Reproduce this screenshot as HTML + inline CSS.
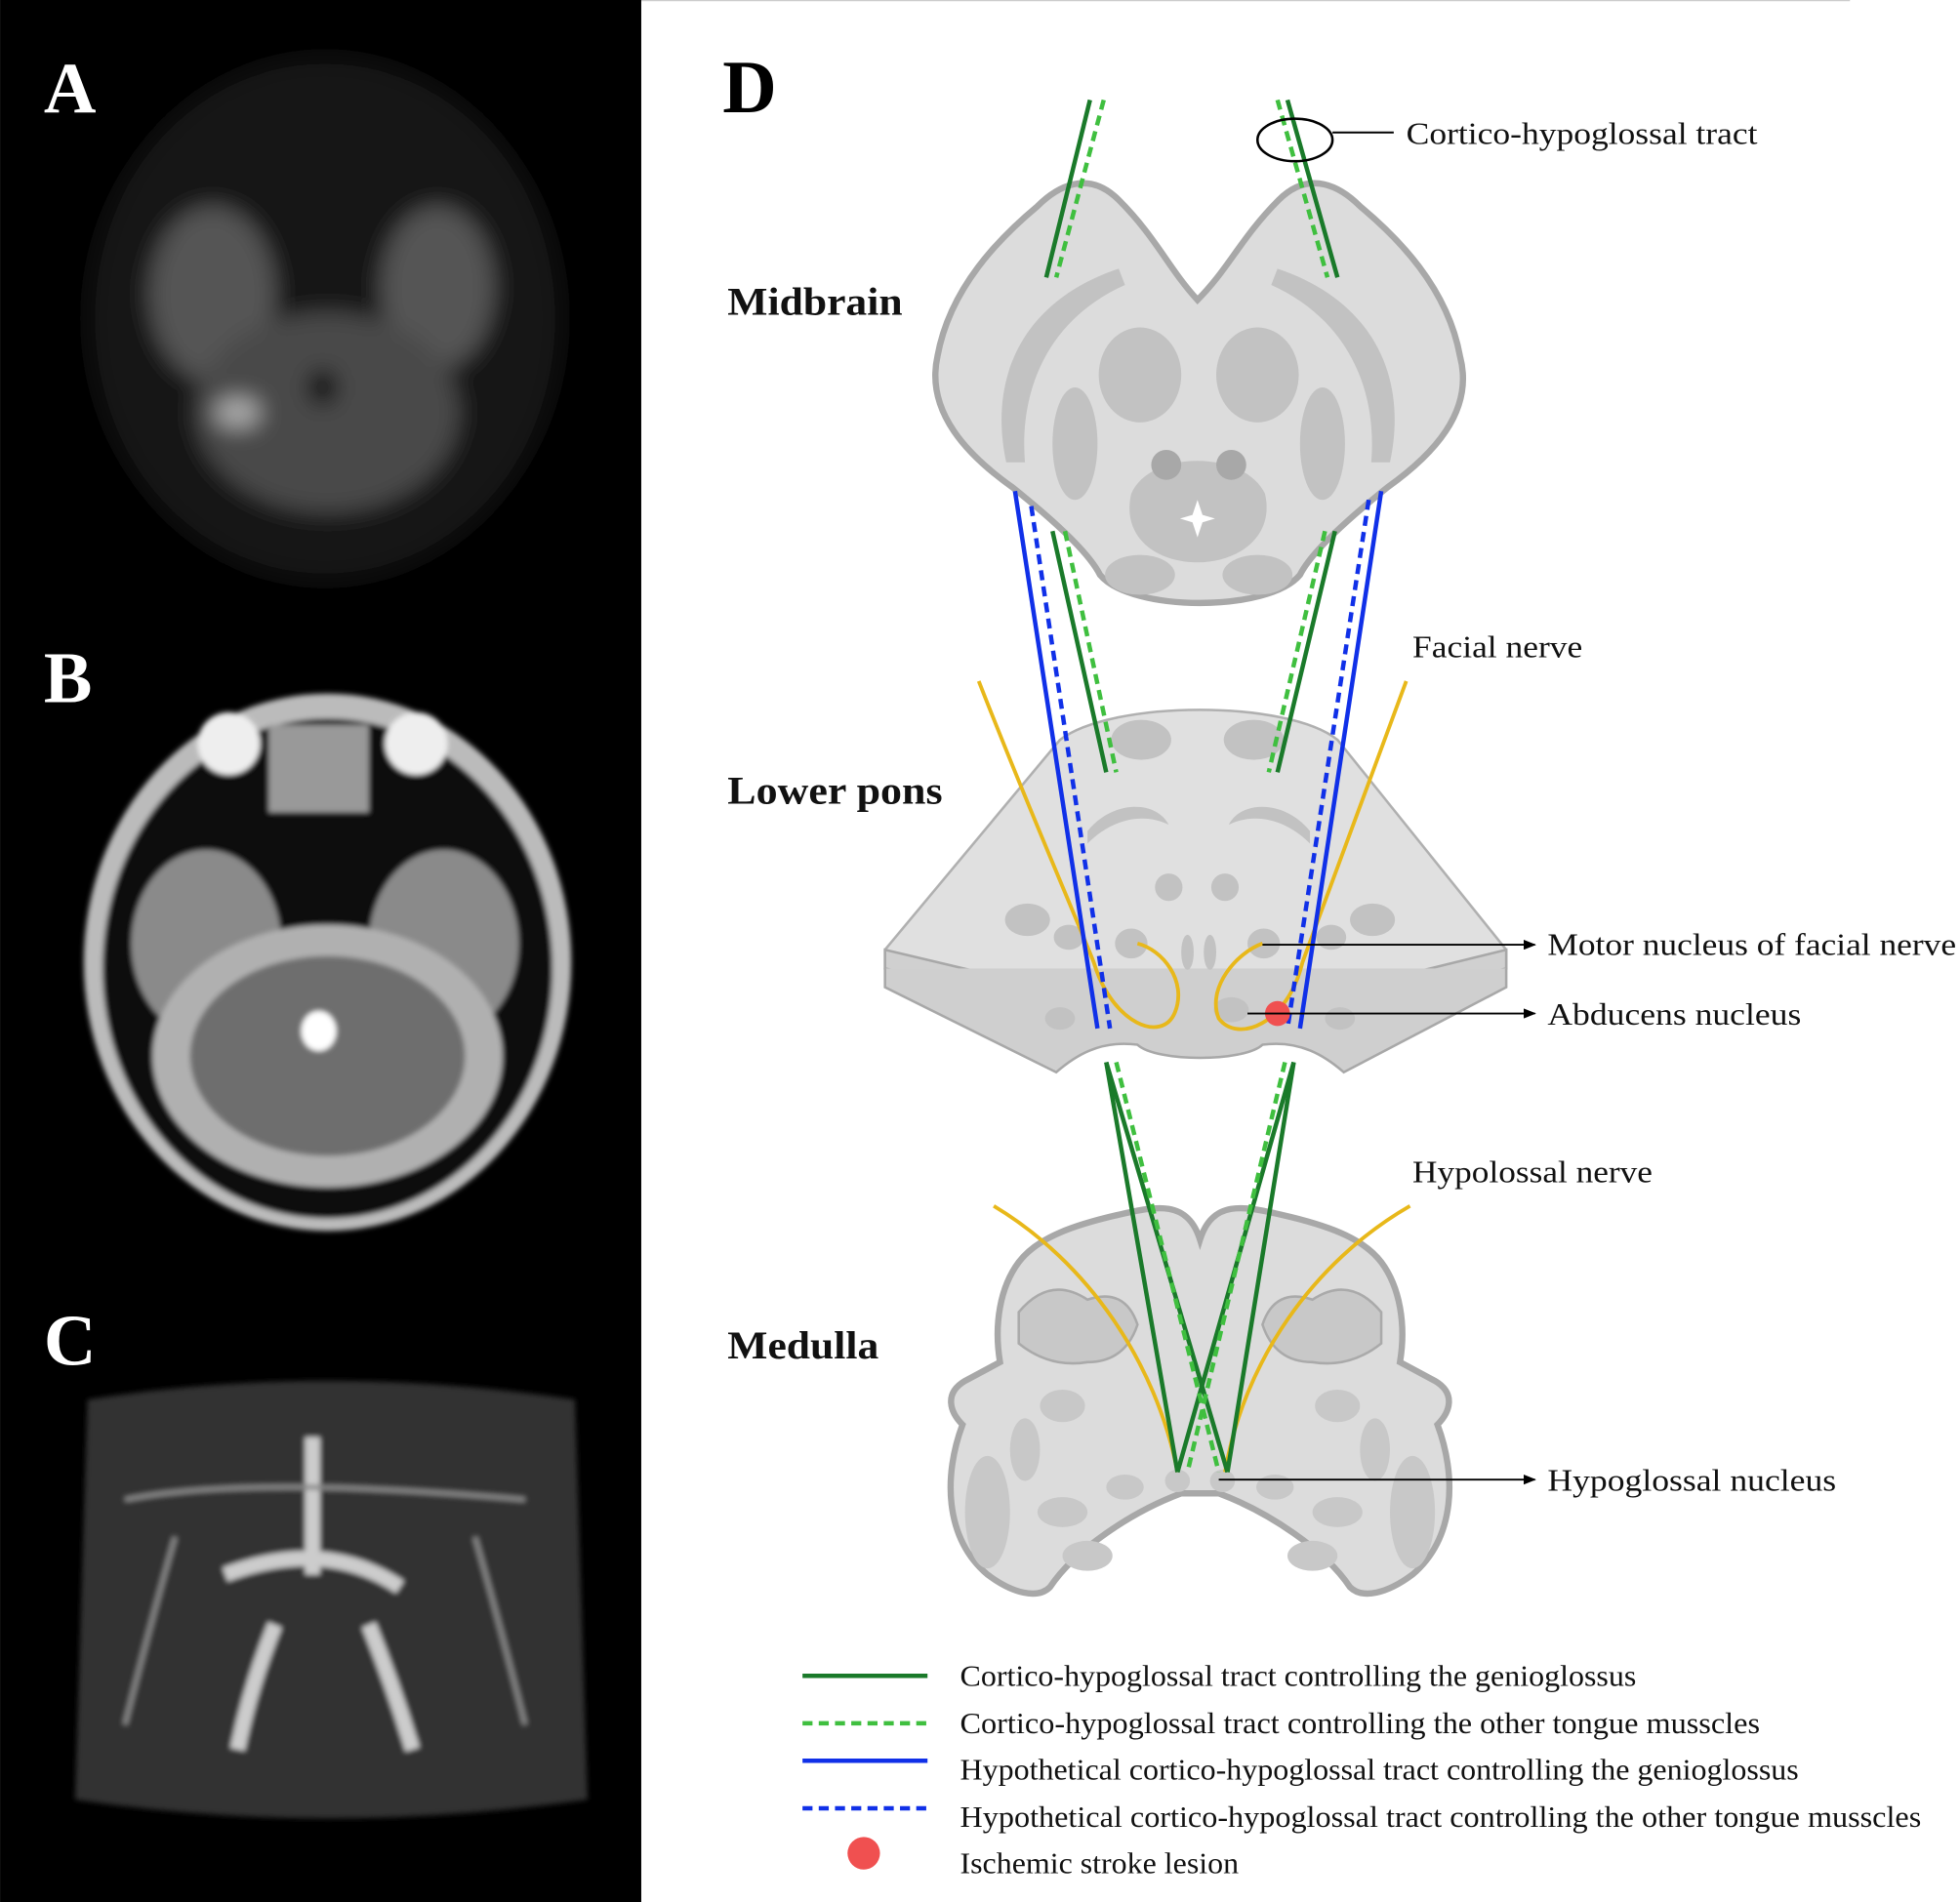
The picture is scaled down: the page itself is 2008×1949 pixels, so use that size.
<!DOCTYPE html>
<html><head><meta charset="utf-8"><style>
html,body{margin:0;padding:0;background:#fff;}
svg{display:block;}
text{font-family:"Liberation Serif",serif;}
</style></head><body>
<svg width="2008" height="1949" viewBox="0 0 1568 1522" xmlns="http://www.w3.org/2000/svg">
<defs>
<filter id="bl" x="-20%" y="-20%" width="140%" height="140%"><feGaussianBlur stdDeviation="9"/></filter>
<filter id="bl2"><feGaussianBlur stdDeviation="2"/></filter>
<marker id="ar" markerWidth="10" markerHeight="8" refX="9" refY="4" orient="auto" markerUnits="userSpaceOnUse"><path d="M0,0 L10,4 L0,8 z" fill="#000"/></marker>
</defs>
<rect x="0" y="0" width="1568" height="1522" fill="#fff"/>
<line x1="513" y1="0.5" x2="1480" y2="0.5" stroke="#ccc" stroke-width="1"/>
<rect x="0" y="0" width="513" height="1522" fill="#000"/>
<!-- A -->
<g filter="url(#bl)">
<ellipse cx="260" cy="255" rx="190" ry="210" fill="#141414"/>
<ellipse cx="170" cy="235" rx="50" ry="70" fill="#555"/>
<ellipse cx="350" cy="230" rx="45" ry="65" fill="#555"/>
<ellipse cx="262" cy="330" rx="105" ry="80" fill="#4a4a4a"/>
<ellipse cx="190" cy="330" rx="18" ry="12" fill="#aaa"/>
<ellipse cx="258" cy="310" rx="12" ry="14" fill="#000"/>
</g>
<text x="35" y="90" font-size="58" font-weight="bold" fill="#fff">A</text>
<!-- B -->
<g filter="url(#bl2)">
<ellipse cx="262" cy="770" rx="195" ry="215" fill="#bbb"/>
<ellipse cx="262" cy="775" rx="180" ry="200" fill="#111"/>
<ellipse cx="165" cy="755" rx="60" ry="75" fill="#8a8a8a"/>
<ellipse cx="355" cy="755" rx="60" ry="75" fill="#8a8a8a"/>
<ellipse cx="262" cy="845" rx="140" ry="105" fill="#b0b0b0"/>
<ellipse cx="262" cy="845" rx="110" ry="80" fill="#6e6e6e"/>
<ellipse cx="255" cy="825" rx="14" ry="16" fill="#fff"/>
<circle cx="183" cy="595" r="25" fill="#eee"/>
<circle cx="333" cy="595" r="25" fill="#eee"/>
<rect x="215" y="580" width="80" height="70" fill="#999"/>
</g>
<text x="35" y="562" font-size="58" font-weight="bold" fill="#fff">B</text>
<!-- C -->
<g filter="url(#bl2)">
<path d="M70,1120 Q260,1090 460,1120 L470,1440 Q260,1470 60,1440 Z" fill="#333"/>
<path d="M180,1260 Q260,1230 320,1270 M220,1300 Q200,1350 190,1400 M295,1300 Q315,1350 330,1400 M250,1260 L250,1150" stroke="#ccc" stroke-width="12" fill="none"/>
<path d="M100,1200 Q200,1180 420,1200 M140,1230 Q120,1300 100,1380 M380,1230 Q400,1300 420,1380" stroke="#888" stroke-width="4" fill="none"/>
</g>
<text x="35" y="1092" font-size="58" font-weight="bold" fill="#fff">C</text>

<text x="578" y="90" font-size="60" font-weight="bold" fill="#000">D</text>
<g font-size="31" font-weight="bold" fill="#111">
<text x="582" y="252" textLength="140" lengthAdjust="spacingAndGlyphs">Midbrain</text>
<text x="582" y="643" textLength="172" lengthAdjust="spacingAndGlyphs">Lower pons</text>
<text x="582" y="1087" textLength="121" lengthAdjust="spacingAndGlyphs">Medulla</text>
</g>

<!-- Midbrain -->
<path d="M958,240 C935,215 925,190 895,160 C870,135 845,150 830,165 C800,190 760,230 750,285 C740,330 775,365 810,390 C835,410 870,440 880,460 C905,490 1015,490 1040,460 C1050,440 1085,410 1110,390 C1145,365 1180,330 1168,285 C1158,230 1118,190 1088,165 C1073,150 1048,135 1023,160 C993,190 983,215 958,240 Z" fill="#dcdcdc" stroke="#a8a8a8" stroke-width="5"/>
<g fill="#c2c2c2">
<path d="M805,370 C790,300 820,240 895,215 L900,228 C840,255 815,310 820,370 Z"/>
<path d="M1112,370 C1127,300 1097,240 1022,215 L1017,228 C1077,255 1102,310 1097,370 Z"/>
<ellipse cx="912" cy="300" rx="33" ry="38"/>
<ellipse cx="1006" cy="300" rx="33" ry="38"/>
<ellipse cx="860" cy="355" rx="18" ry="45"/>
<ellipse cx="1058" cy="355" rx="18" ry="45"/>
<path d="M905,395 C920,360 995,360 1012,395 C1020,430 990,450 958,450 C925,450 897,430 905,395 Z"/>
<ellipse cx="912" cy="460" rx="28" ry="16"/>
<ellipse cx="1006" cy="460" rx="28" ry="16"/>
</g>
<g fill="#a8a8a8"><ellipse cx="933" cy="372" rx="12" ry="12"/><ellipse cx="985" cy="372" rx="12" ry="12"/></g>
<path d="M958,400 L962,412 L972,415 L962,418 L958,430 L954,418 L944,415 L954,412 Z" fill="#fff"/>

<!-- Lower pons -->
<path d="M708,760 L848,592 C890,560 1030,560 1070,592 L1205,760 L1205,775 L1010,822 C995,840 925,840 910,822 L708,775 Z" fill="#e0e0e0" stroke="#b0b0b0" stroke-width="2"/>
<path d="M708,760 L910,808 C925,825 995,825 1010,808 L1205,760 L1205,775 L1010,822 C995,840 925,840 910,822 L708,775 Z" fill="#d0d0d0" stroke="#a8a8a8" stroke-width="2"/>
<path d="M708,775 L708,790 L845,858 C860,845 880,832 910,836 C925,850 995,850 1010,836 C1040,832 1060,845 1075,858 L1205,790 L1205,775" fill="#cfcfcf" stroke="#a8a8a8" stroke-width="2"/>
<g fill="#c2c2c2">
<ellipse cx="913" cy="592" rx="24" ry="16"/><ellipse cx="1003" cy="592" rx="24" ry="16"/>
<path d="M870,665 C890,640 925,640 935,660 C915,650 890,655 870,675 Z"/>
<path d="M1048,665 C1028,640 993,640 983,660 C1003,650 1028,655 1048,675 Z"/>
<ellipse cx="935" cy="710" rx="11" ry="11"/><ellipse cx="980" cy="710" rx="11" ry="11"/>
<ellipse cx="822" cy="736" rx="18" ry="13"/><ellipse cx="1098" cy="736" rx="18" ry="13"/>
<ellipse cx="855" cy="750" rx="12" ry="10"/><ellipse cx="1065" cy="750" rx="12" ry="10"/>
<ellipse cx="905" cy="755" rx="13" ry="12"/><ellipse cx="1011" cy="755" rx="13" ry="12"/>
<ellipse cx="950" cy="762" rx="5" ry="14"/><ellipse cx="968" cy="762" rx="5" ry="14"/>
<ellipse cx="848" cy="815" rx="12" ry="9"/><ellipse cx="1072" cy="815" rx="12" ry="9"/>
<ellipse cx="985" cy="808" rx="14" ry="10"/>
</g>

<!-- Medulla -->
<path d="M960,992 C950,960 925,965 895,972 C860,980 830,990 815,1010 C800,1030 795,1060 800,1090 L772,1105 C755,1115 760,1130 770,1140 C755,1180 755,1230 790,1260 C810,1275 830,1280 840,1270 C860,1240 905,1210 945,1195 L975,1195 C1015,1210 1060,1240 1080,1270 C1090,1280 1110,1275 1130,1260 C1165,1230 1165,1180 1150,1140 C1160,1130 1165,1115 1148,1105 L1120,1090 C1125,1060 1120,1030 1105,1010 C1090,990 1060,980 1025,972 C995,965 970,960 960,992 Z" fill="#dcdcdc" stroke="#a8a8a8" stroke-width="5"/>
<g fill="#c8c8c8">
<path d="M815,1050 Q840,1020 870,1040 Q900,1030 910,1060 Q900,1090 870,1090 Q840,1095 815,1075 Z" stroke="#aaa" stroke-width="2"/>
<path d="M1105,1050 Q1080,1020 1050,1040 Q1020,1030 1010,1060 Q1020,1090 1050,1090 Q1080,1095 1105,1075 Z" stroke="#aaa" stroke-width="2"/>
<ellipse cx="820" cy="1160" rx="12" ry="25"/><ellipse cx="1100" cy="1160" rx="12" ry="25"/>
<ellipse cx="790" cy="1210" rx="18" ry="45"/><ellipse cx="1130" cy="1210" rx="18" ry="45"/>
<ellipse cx="850" cy="1210" rx="20" ry="12"/><ellipse cx="1070" cy="1210" rx="20" ry="12"/>
<ellipse cx="870" cy="1245" rx="20" ry="12"/><ellipse cx="1050" cy="1245" rx="20" ry="12"/>
<ellipse cx="900" cy="1190" rx="15" ry="10"/><ellipse cx="1020" cy="1190" rx="15" ry="10"/>
<ellipse cx="850" cy="1125" rx="18" ry="13"/><ellipse cx="1070" cy="1125" rx="18" ry="13"/>
<ellipse cx="942" cy="1185" rx="10" ry="9"/><ellipse cx="978" cy="1185" rx="10" ry="9"/>
</g>

<g stroke="#e8b81a" stroke-width="3" fill="none">
<path d="M783,545 C820,640 855,720 875,770 C890,820 930,835 940,810 C950,785 930,760 910,755"/>
<path d="M1125,545 C1090,640 1060,720 1042,770 C1030,820 990,835 975,815 C965,790 990,762 1010,755"/>
<path d="M795,965 C870,1010 925,1090 942,1178"/>
<path d="M1128,965 C1050,1010 995,1090 980,1178"/>
</g>

<g stroke="#1a7a2a" stroke-width="3.5" fill="none">
<line x1="872" y1="80" x2="837" y2="222"/><line x1="1030" y1="80" x2="1070" y2="222"/>
<line x1="842" y1="425" x2="885" y2="618"/><line x1="1068" y1="425" x2="1022" y2="618"/>
<line x1="885" y1="850" x2="982" y2="1178"/><line x1="1035" y1="850" x2="942" y2="1178"/>
<line x1="885" y1="850" x2="942" y2="1178"/><line x1="1035" y1="850" x2="982" y2="1178"/>
</g>
<g stroke="#3fbf3f" stroke-width="3.5" stroke-dasharray="8,5" fill="none">
<line x1="883" y1="80" x2="845" y2="222"/><line x1="1022" y1="80" x2="1062" y2="222"/>
<line x1="852" y1="425" x2="893" y2="618"/><line x1="1060" y1="425" x2="1015" y2="618"/>
<line x1="893" y1="850" x2="975" y2="1178"/><line x1="1028" y1="850" x2="950" y2="1178"/>
</g>
<g stroke="#1030e8" stroke-width="3.5" fill="none">
<line x1="812" y1="393" x2="878" y2="823"/><line x1="1105" y1="393" x2="1040" y2="823"/>
</g>
<g stroke="#1030e8" stroke-width="3.5" stroke-dasharray="8,5" fill="none">
<line x1="825" y1="405" x2="888" y2="823"/><line x1="1095" y1="400" x2="1030" y2="823"/>
</g>
<circle cx="1022" cy="811" r="10" fill="#f05050"/>

<ellipse cx="1036" cy="112" rx="30" ry="17" fill="none" stroke="#000" stroke-width="2"/>
<line x1="1066" y1="106" x2="1115" y2="106" stroke="#000" stroke-width="1.5"/>
<g stroke="#000" stroke-width="1.5" marker-end="url(#ar)">
<line x1="1010" y1="756" x2="1228" y2="756"/>
<line x1="998" y1="811" x2="1228" y2="811"/>
<line x1="975" y1="1184" x2="1228" y2="1184"/>
</g>
<g font-size="25" fill="#111" lengthAdjust="spacingAndGlyphs">
<text x="1125" y="115" textLength="281" lengthAdjust="spacingAndGlyphs">Cortico-hypoglossal tract</text>
<text x="1130" y="526" textLength="136" lengthAdjust="spacingAndGlyphs">Facial nerve</text>
<text x="1238" y="764" textLength="327" lengthAdjust="spacingAndGlyphs">Motor nucleus of facial nerve</text>
<text x="1238" y="820" textLength="203" lengthAdjust="spacingAndGlyphs">Abducens nucleus</text>
<text x="1130" y="946" textLength="192" lengthAdjust="spacingAndGlyphs">Hypolossal nerve</text>
<text x="1238" y="1193" textLength="231" lengthAdjust="spacingAndGlyphs">Hypoglossal nucleus</text>
</g>

<line x1="642" y1="1341" x2="742" y2="1341" stroke="#1a7a2a" stroke-width="3.5"/>
<line x1="642" y1="1379" x2="742" y2="1379" stroke="#3fbf3f" stroke-width="3.5" stroke-dasharray="8,5"/>
<line x1="642" y1="1409" x2="742" y2="1409" stroke="#1030e8" stroke-width="3.5"/>
<line x1="642" y1="1447" x2="742" y2="1447" stroke="#1030e8" stroke-width="3.5" stroke-dasharray="8,5"/>
<circle cx="691" cy="1483" r="13" fill="#f05050"/>
<g font-size="24" fill="#111">
<text x="768" y="1349" textLength="541" lengthAdjust="spacingAndGlyphs">Cortico-hypoglossal tract controlling the genioglossus</text>
<text x="768" y="1387" textLength="640" lengthAdjust="spacingAndGlyphs">Cortico-hypoglossal tract  controlling the other tongue musscles</text>
<text x="768" y="1424" textLength="671" lengthAdjust="spacingAndGlyphs">Hypothetical cortico-hypoglossal tract controlling the genioglossus</text>
<text x="768" y="1462" textLength="769" lengthAdjust="spacingAndGlyphs">Hypothetical cortico-hypoglossal tract  controlling the other tongue musscles</text>
<text x="768" y="1499" textLength="223" lengthAdjust="spacingAndGlyphs">Ischemic stroke lesion</text>
</g>
</svg>
</body></html>
